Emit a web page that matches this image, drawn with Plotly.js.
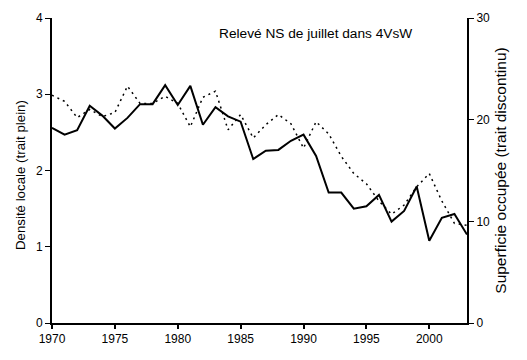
<!DOCTYPE html>
<html>
<head>
<meta charset="utf-8">
<script src="https://cdn.plot.ly/plotly-3.0.1.min.js"></script>
<style>html,body{margin:0;padding:0;background:#fff;}#chart{width:527px;height:360px;}</style>
</head>
<body>
<div id="chart"></div>
<script>
const years = [1970,1971,1972,1973,1974,1975,1976,1977,1978,1979,1980,1981,1982,1983,1984,1985,1986,1987,1988,1989,1990,1991,1992,1993,1994,1995,1996,1997,1998,1999,2000,2001,2002,2003];
const densite = [2.56,2.47,2.53,2.85,2.72,2.55,2.69,2.87,2.87,3.12,2.86,3.11,2.60,2.83,2.71,2.64,2.15,2.26,2.27,2.39,2.47,2.19,1.71,1.71,1.50,1.53,1.68,1.33,1.47,1.79,1.08,1.38,1.43,1.16];
const superficie = [22.4,21.8,20.2,21.0,20.3,20.7,23.3,21.6,21.6,22.3,21.6,19.3,22.2,22.8,19.0,20.5,18.2,19.5,20.5,19.6,17.2,19.8,18.6,16.4,14.7,13.7,12.0,10.7,11.6,13.4,14.7,12.0,9.8,9.6];
const xTicks = [1970,1975,1980,1985,1990,1995,2000];
const titleText = "Relevé NS de juillet dans 4VsW";
const yTitle = "Densité locale (trait plein)";
const y2Title = "Superficie occupée (trait discontinu)";

const font = {family: "Liberation Sans, Arial, sans-serif", color: "#000"};
const traces = [
  {x: years, y: densite, type: "scatter", mode: "lines", line: {color: "#000", width: 2}, yaxis: "y", showlegend: false},
  {x: years, y: superficie, type: "scatter", mode: "lines", line: {color: "#000", width: 1.5, dash: "2px,4px"}, yaxis: "y2", showlegend: false}
];
const layout = {
  width: 527, height: 360,
  margin: {l: 52, r: 60, t: 18, b: 37, pad: 0},
  paper_bgcolor: "#fff", plot_bgcolor: "#fff",
  font: Object.assign({size: 12}, font),
  showlegend: false,
  xaxis: {range: [1970, 2003], tickvals: xTicks, ticktext: xTicks.map(String), showgrid: false, zeroline: false,
          showline: true, linewidth: 2, linecolor: "#000", ticks: "outside", ticklen: 4, tickwidth: 2, tickcolor: "#000",
          tickfont: Object.assign({size: 12}, font)},
  yaxis: {range: [0, 4], dtick: 1, showgrid: false, zeroline: false, showline: true, linewidth: 2, linecolor: "#000",
          ticks: "outside", ticklen: 5, tickwidth: 1, tickcolor: "#000", tickfont: Object.assign({size: 12}, font)},
  yaxis2: {range: [0, 30], dtick: 10, overlaying: "y", side: "right", showgrid: false, zeroline: false, showline: true,
           linewidth: 2, linecolor: "#000", ticks: "outside", ticklen: 5, tickwidth: 1, tickcolor: "#000",
           tickfont: Object.assign({size: 12}, font),
           title: {text: y2Title, font: Object.assign({size: 15.5}, font), standoff: 6}},
  annotations: [
    {text: titleText, xref: "paper", yref: "paper", x: 0.636, y: 0.948, showarrow: false,
     font: Object.assign({size: 13.7}, font), xanchor: "center", yanchor: "middle"},
    {text: yTitle, xref: "paper", yref: "paper", x: -0.077, y: 0.485, showarrow: false, textangle: -90,
     font: Object.assign({size: 13.3}, font), xanchor: "center", yanchor: "middle"}
  ]
};
Plotly.newPlot("chart", traces, layout, {displayModeBar: false, staticPlot: true});
</script>
</body>
</html>
